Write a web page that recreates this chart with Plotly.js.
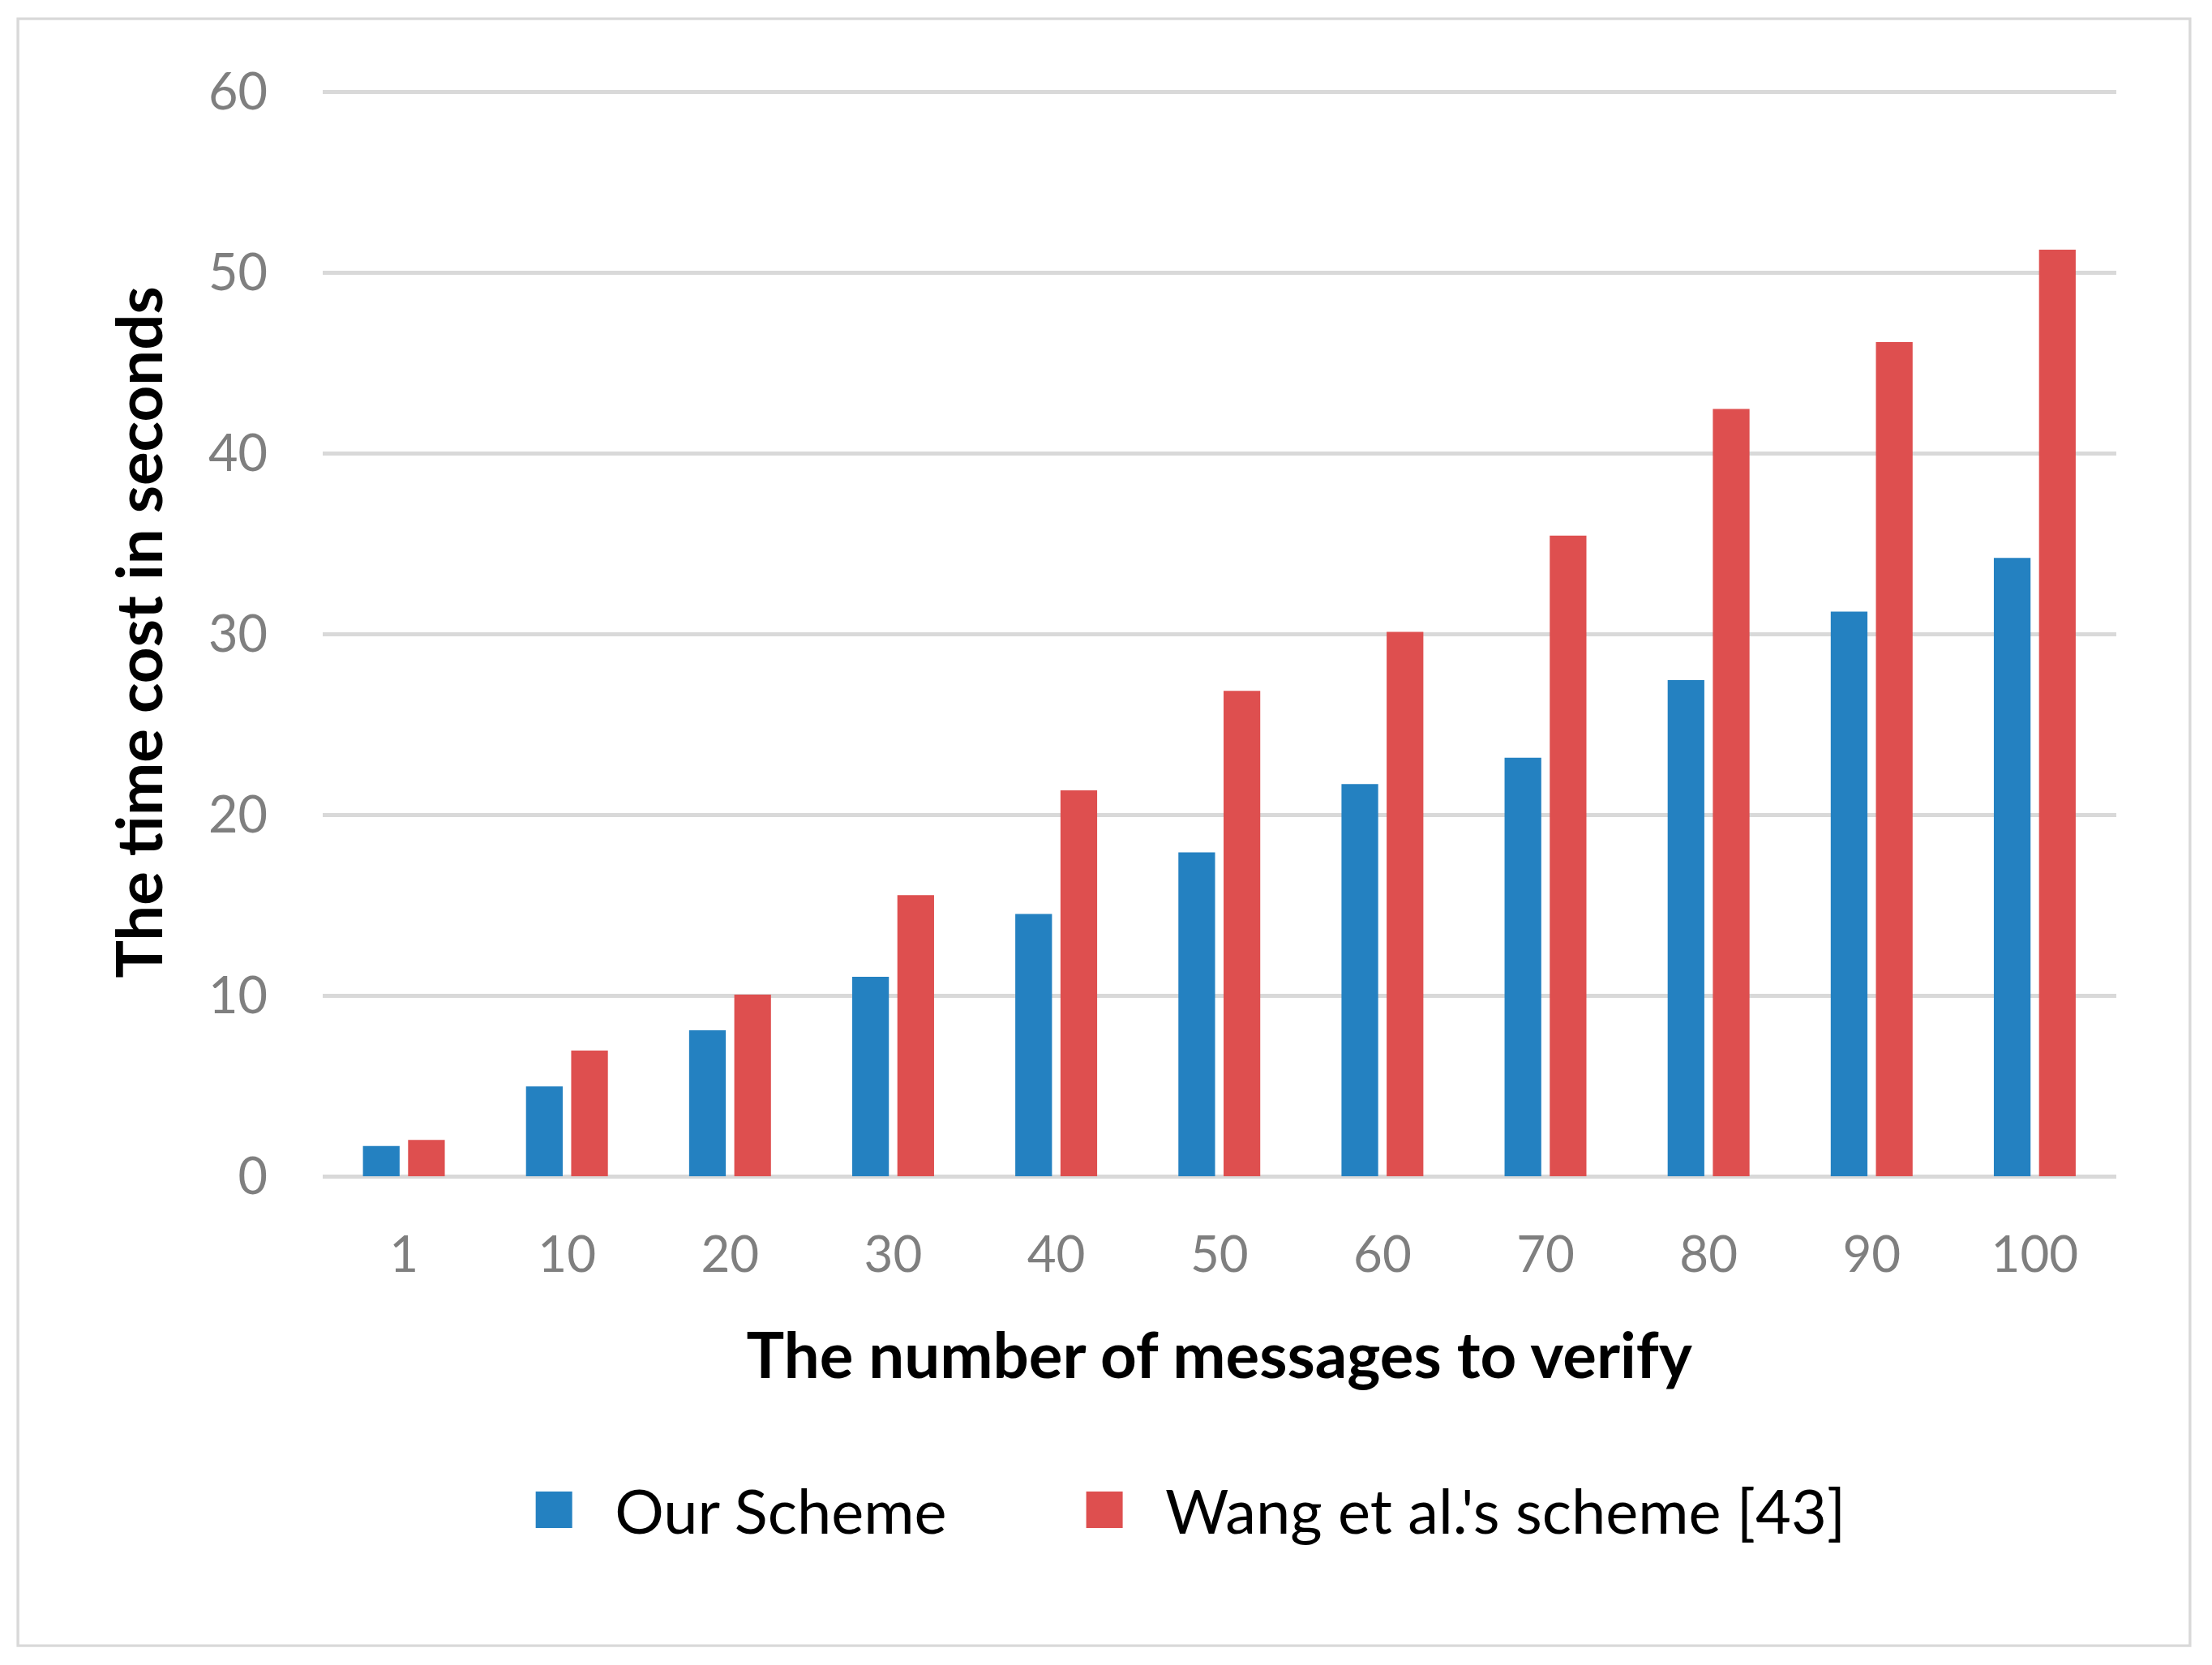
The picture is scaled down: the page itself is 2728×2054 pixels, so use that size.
<!DOCTYPE html>
<html>
<head>
<meta charset="utf-8">
<script src="https://cdn.plot.ly/plotly-3.0.1.min.js"></script>
<style>
html, body { margin:0; padding:0; background:#fff; overflow:hidden; }
/* draw at a small size and zoom it up, so the fixed legend squares come out big */
#graph { zoom: 3.75; }
</style>
</head>
<body>
<div id="graph"></div>
<script>
let categories = ['1','10','20','30','40','50','60','70','80','90','100'];
let ourScheme = [1.68, 4.98, 8.08, 11.04, 14.52, 17.92, 21.70, 23.16, 27.46, 31.24, 34.21];
let wangScheme = [2.02, 6.96, 10.06, 15.56, 21.36, 26.86, 30.12, 35.45, 42.46, 46.15, 51.27];
let yTicks = [0, 10, 20, 30, 40, 50, 60];
let seriesNames = ['Our Scheme', "Wang et al.'s scheme [43]"];

let k = 3.75;
let W = 2728/k, H = 2054/k;

// plot box in page pixels (top a hair above the 60 line so that line is kept)
let yMax = 60.2;
let pl = 397, pr = 2613, pb = 1449;
let pt = pb - (pb-113)*yMax/60;
let px = function(v){ return (v-pl)/(pr-pl); };
let py = function(v){ return (pb-v)/(pb-pt); };

var trace1 = {
	x : categories,
	y : ourScheme,
	name : seriesNames[0],
	type : 'bar',
	legend : 'legend',
	marker : {color : '#2481c1'}
};
var trace2 = {
	x : categories,
	y : wangScheme,
	name : seriesNames[1],
	type : 'bar',
	legend : 'legend2',
	marker : {color : '#de4f4f'}
};

var data = [trace1, trace2];

var legendFont = {size : 20.2, color : '#000000'};

var layout = {
	width : W,
	height : H,
	margin : {l : pl/k, r : (2728-pr)/k, t : pt/k, b : (2054-pb)/k, pad : 0},
	paper_bgcolor : '#ffffff',
	plot_bgcolor : '#ffffff',
	font : {family : 'Lato, sans-serif', color : '#000000'},
	barmode : 'group',
	bargap : 0.446,
	bargroupgap : 0.188,
	showlegend : true,
	legend : {
		orientation : 'h',
		x : px(608),
		xanchor : 'left',
		y : py(1861),
		yanchor : 'middle',
		font : legendFont
	},
	legend2 : {
		orientation : 'h',
		x : px(1288),
		xanchor : 'left',
		y : py(1861),
		yanchor : 'middle',
		font : legendFont
	},
	xaxis : {
		type : 'category',
		showgrid : false,
		showline : false,
		zeroline : false,
		ticks : '',
		ticklabelstandoff : 14,
		tickfont : {size : 16.5, color : '#7f7f7f'},
		title : {
			text : 'The number of messages to verify',
			font : {size : 20.8, color : '#000000', weight : 'bold'},
			standoff : 16.7
		}
	},
	yaxis : {
		range : [0, yMax],
		tickvals : yTicks,
		showline : false,
		gridcolor : '#d9d9d9',
		gridwidth : 1.35,
		zeroline : true,
		zerolinecolor : '#d9d9d9',
		zerolinewidth : 1.35,
		ticks : '',
		ticklabelstandoff : 17,
		tickfont : {size : 16.8, color : '#7f7f7f'},
		title : {
			text : 'The time cost in seconds',
			font : {size : 20.8, color : '#000000', weight : 'bold'},
			standoff : 8.5
		}
	},
	shapes : [{
		type : 'rect',
		xref : 'paper', yref : 'paper',
		x0 : px(21), x1 : px(2704),
		y0 : py(2027), y1 : py(23),
		line : {color : '#d9d9d9', width : 0.9},
		fillcolor : 'rgba(0,0,0,0)',
		layer : 'below'
	}]
};

Plotly.newPlot('graph', data, layout, {displayModeBar : false, staticPlot : true});
</script>
</body>
</html>
